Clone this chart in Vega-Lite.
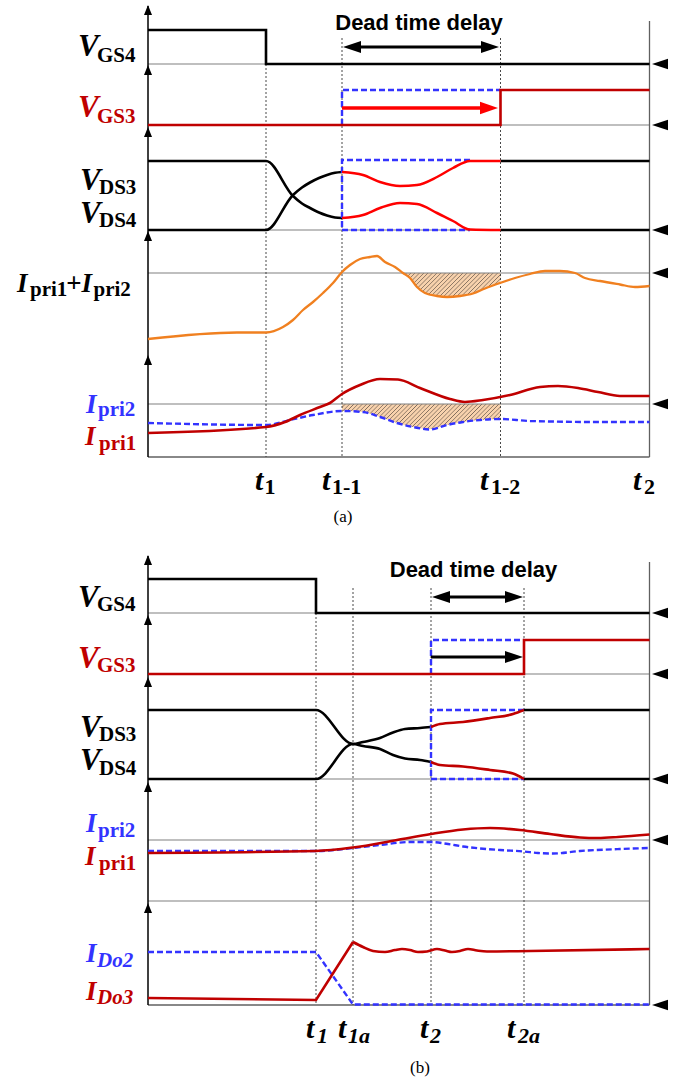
{
"$schema": "https://vega.github.io/schema/vega-lite/v6.json",
"width": 686, "height": 1081, "padding": 0,
"autosize": {"type": "fit", "contains": "padding"},
"background": "white",
"config": {"view": {"stroke": null}},
"datasets": {
"hatch1": [{"t":51,"y":273,"y2":273},{"t":52.4,"y":273,"y2":278},{"t":53.8,"y":273,"y2":287},{"t":55.4,"y":273,"y2":293},{"t":57.8,"y":273,"y2":296},{"t":59.8,"y":273,"y2":297},{"t":62.4,"y":273,"y2":296},{"t":65,"y":273,"y2":293.5},{"t":67.4,"y":273,"y2":288.5},{"t":70.5,"y":273,"y2":283}],
"hatch2": [{"t":38.8,"y":404,"y2":411},{"t":43,"y":404,"y2":412},{"t":46.4,"y":404,"y2":417},{"t":49.8,"y":404,"y2":423},{"t":53,"y":404,"y2":427},{"t":56.4,"y":404,"y2":429},{"t":59.8,"y":404,"y2":425},{"t":63,"y":404,"y2":422},{"t":66.4,"y":404,"y2":420},{"t":70.5,"y":404,"y2":419}],
"base": [{"t":0,"t2":100.3,"y":64},{"t":0,"t2":100.3,"y":125},{"t":0,"t2":100.3,"y":230},{"t":0,"t2":100.3,"y":273},{"t":0,"t2":100.3,"y":404},{"t":0,"t2":100.3,"y":613},{"t":0,"t2":100.3,"y":674},{"t":0,"t2":100.3,"y":779},{"t":0,"t2":100.3,"y":840},{"t":0,"t2":100.3,"y":901}],
"frame": [{"t":0,"t2":100.3,"y":457,"y2":457},{"t":100.3,"t2":100.3,"y":21,"y2":457},{"t":0,"t2":100.3,"y":1005,"y2":1005},{"t":100.3,"t2":100.3,"y":562,"y2":1005}],
"dots": [{"t":23.6,"y":64,"y2":457},{"t":38.8,"y":38,"y2":457},{"t":70.5,"y":38,"y2":457},{"t":33.6,"y":613,"y2":1005},{"t":41,"y":588,"y2":1005},{"t":56.6,"y":588,"y2":1005},{"t":75.2,"y":588,"y2":1005}],
"axes": [{"t":0,"t2":0,"y":6,"y2":457},{"t":0,"t2":0,"y":556,"y2":1005}],
"tips": [{"t":0,"y":5},{"t":0,"y":65},{"t":0,"y":127},{"t":0,"y":231},{"t":0,"y":355},{"t":0,"y":555},{"t":0,"y":615},{"t":0,"y":677},{"t":0,"y":782},{"t":0,"y":903}],
"marks": [{"t":100.8,"y":64},{"t":100.8,"y":125},{"t":100.8,"y":230},{"t":100.8,"y":273},{"t":100.8,"y":404},{"t":100.8,"y":613},{"t":100.8,"y":674},{"t":100.8,"y":779},{"t":100.8,"y":840},{"t":100.8,"y":1005}],
"black_step": [
{"id":"a_vgs4","t":0,"y":30},{"id":"a_vgs4","t":23.6,"y":30},{"id":"a_vgs4","t":23.6,"y":64},{"id":"a_vgs4","t":100.3,"y":64},
{"id":"a_vds3p","t":70.5,"y":161},{"id":"a_vds3p","t":100.3,"y":161},
{"id":"a_vds4p","t":70.5,"y":230},{"id":"a_vds4p","t":100.3,"y":230},
{"id":"b_vgs4","t":0,"y":579},{"id":"b_vgs4","t":33.6,"y":579},{"id":"b_vgs4","t":33.6,"y":613},{"id":"b_vgs4","t":100.3,"y":613},
{"id":"b_vds3p","t":75.2,"y":710},{"id":"b_vds3p","t":100.3,"y":710},
{"id":"b_vds4p","t":75.2,"y":779},{"id":"b_vds4p","t":100.3,"y":779}],
"black_curve": [
{"id":"a_vds3","t":0,"y":161},{"id":"a_vds3","t":23.6,"y":161},{"id":"a_vds3","t":29,"y":196},{"id":"a_vds3","t":30.8,"y":203.5},{"id":"a_vds3","t":32.4,"y":208},{"id":"a_vds3","t":34.2,"y":212.5},{"id":"a_vds3","t":35.8,"y":215.5},{"id":"a_vds3","t":37.4,"y":217.5},{"id":"a_vds3","t":38.8,"y":218},
{"id":"a_vds4","t":0,"y":230},{"id":"a_vds4","t":23.6,"y":230},{"id":"a_vds4","t":29,"y":195},{"id":"a_vds4","t":30.8,"y":187.5},{"id":"a_vds4","t":32.4,"y":182.5},{"id":"a_vds4","t":34.2,"y":178},{"id":"a_vds4","t":35.8,"y":175},{"id":"a_vds4","t":37.4,"y":172.8},{"id":"a_vds4","t":38.8,"y":172},
{"id":"b_vds3","t":0,"y":710},{"id":"b_vds3","t":33.6,"y":710},{"id":"b_vds3","t":41,"y":744},{"id":"b_vds3","t":43,"y":742},{"id":"b_vds3","t":46.4,"y":738},{"id":"b_vds3","t":49,"y":732.5},{"id":"b_vds3","t":51.4,"y":729},{"id":"b_vds3","t":54.4,"y":728},{"id":"b_vds3","t":56.6,"y":727},
{"id":"b_vds4","t":0,"y":779},{"id":"b_vds4","t":33.6,"y":779},{"id":"b_vds4","t":41,"y":744},{"id":"b_vds4","t":43,"y":746},{"id":"b_vds4","t":46.4,"y":749},{"id":"b_vds4","t":49,"y":755},{"id":"b_vds4","t":51.4,"y":758.5},{"id":"b_vds4","t":54.4,"y":760},{"id":"b_vds4","t":56.6,"y":762}],
"blue_step": [
{"id":"a_vgs3b","t":38.8,"y":125},{"id":"a_vgs3b","t":38.8,"y":90},{"id":"a_vgs3b","t":70.5,"y":90},
{"id":"a_vdsb","t":64.4,"y":160},{"id":"a_vdsb","t":38.8,"y":160},{"id":"a_vdsb","t":38.8,"y":230},{"id":"a_vdsb","t":64.4,"y":230},
{"id":"b_vgs3b","t":56.6,"y":674},{"id":"b_vgs3b","t":56.6,"y":640},{"id":"b_vgs3b","t":75.2,"y":640},
{"id":"b_vdsb","t":75.2,"y":710},{"id":"b_vdsb","t":56.6,"y":710},{"id":"b_vdsb","t":56.6,"y":779},{"id":"b_vdsb","t":75.2,"y":779},
{"id":"b_ido2","t":0,"y":952},{"id":"b_ido2","t":33.6,"y":952},{"id":"b_ido2","t":41,"y":1004.5},{"id":"b_ido2","t":100.3,"y":1004.5}],
"blue_curve": [
{"id":"a_ipri2","t":0,"y":423},{"id":"a_ipri2","t":23.6,"y":425},{"id":"a_ipri2","t":28.4,"y":420},{"id":"a_ipri2","t":33,"y":415},{"id":"a_ipri2","t":38.8,"y":411},{"id":"a_ipri2","t":43,"y":412},{"id":"a_ipri2","t":46.4,"y":417},{"id":"a_ipri2","t":49.8,"y":423},{"id":"a_ipri2","t":53,"y":427},{"id":"a_ipri2","t":56.4,"y":429.5},{"id":"a_ipri2","t":59.8,"y":425},{"id":"a_ipri2","t":63,"y":422},{"id":"a_ipri2","t":66.4,"y":420},{"id":"a_ipri2","t":70.5,"y":419},{"id":"a_ipri2","t":76.4,"y":421},{"id":"a_ipri2","t":90.4,"y":422},{"id":"a_ipri2","t":100.3,"y":422},
{"id":"b_ipri2","t":0,"y":851},{"id":"b_ipri2","t":33.6,"y":851},{"id":"b_ipri2","t":41,"y":848},{"id":"b_ipri2","t":46.4,"y":845},{"id":"b_ipri2","t":52.4,"y":842},{"id":"b_ipri2","t":56.6,"y":842},{"id":"b_ipri2","t":60,"y":844},{"id":"b_ipri2","t":63,"y":846.5},{"id":"b_ipri2","t":70.4,"y":850},{"id":"b_ipri2","t":75.2,"y":851.5},{"id":"b_ipri2","t":78,"y":853},{"id":"b_ipri2","t":81,"y":853.5},{"id":"b_ipri2","t":86.4,"y":851},{"id":"b_ipri2","t":94.4,"y":849},{"id":"b_ipri2","t":100.3,"y":848}],
"darkred_step": [
{"id":"a_vgs3","t":0,"y":125},{"id":"a_vgs3","t":70.5,"y":125},{"id":"a_vgs3","t":70.5,"y":90},{"id":"a_vgs3","t":100.3,"y":90},
{"id":"b_vgs3","t":0,"y":674},{"id":"b_vgs3","t":75.2,"y":674},{"id":"b_vgs3","t":75.2,"y":640},{"id":"b_vgs3","t":100.3,"y":640},
{"id":"b_ido3a","t":0,"y":998},{"id":"b_ido3a","t":33.6,"y":1000},{"id":"b_ido3a","t":41,"y":942}],
"darkred_curve": [
{"id":"a_ipri1","t":0,"y":433},{"id":"a_ipri1","t":23.6,"y":427},{"id":"a_ipri1","t":27.4,"y":422},{"id":"a_ipri1","t":30.4,"y":415},{"id":"a_ipri1","t":34.4,"y":407},{"id":"a_ipri1","t":36.4,"y":403},{"id":"a_ipri1","t":38.8,"y":394},{"id":"a_ipri1","t":42.4,"y":385},{"id":"a_ipri1","t":46.4,"y":379},{"id":"a_ipri1","t":50,"y":379.5},{"id":"a_ipri1","t":54.4,"y":388},{"id":"a_ipri1","t":60.4,"y":399},{"id":"a_ipri1","t":63.4,"y":402},{"id":"a_ipri1","t":67,"y":400},{"id":"a_ipri1","t":72.4,"y":395},{"id":"a_ipri1","t":78.4,"y":387},{"id":"a_ipri1","t":82,"y":386},{"id":"a_ipri1","t":86,"y":388},{"id":"a_ipri1","t":90,"y":392},{"id":"a_ipri1","t":94.4,"y":396},{"id":"a_ipri1","t":100.3,"y":396},
{"id":"b_vds3r","t":56.6,"y":727},{"id":"b_vds3r","t":58.4,"y":724},{"id":"b_vds3r","t":63,"y":722},{"id":"b_vds3r","t":68.4,"y":718},{"id":"b_vds3r","t":73,"y":714},{"id":"b_vds3r","t":75.2,"y":710},
{"id":"b_vds4r","t":56.6,"y":762},{"id":"b_vds4r","t":58.4,"y":765},{"id":"b_vds4r","t":63,"y":766.5},{"id":"b_vds4r","t":68.4,"y":770},{"id":"b_vds4r","t":73,"y":773.5},{"id":"b_vds4r","t":75.2,"y":779},
{"id":"b_ipri1","t":0,"y":853},{"id":"b_ipri1","t":33.6,"y":851},{"id":"b_ipri1","t":41,"y":847.5},{"id":"b_ipri1","t":49.8,"y":840},{"id":"b_ipri1","t":56.6,"y":834},{"id":"b_ipri1","t":63,"y":829.5},{"id":"b_ipri1","t":68.4,"y":828},{"id":"b_ipri1","t":74.4,"y":830},{"id":"b_ipri1","t":80.4,"y":834},{"id":"b_ipri1","t":86.4,"y":837.5},{"id":"b_ipri1","t":90,"y":838},{"id":"b_ipri1","t":94,"y":837},{"id":"b_ipri1","t":100.3,"y":834.5},
{"id":"b_ido3","t":41,"y":942},{"id":"b_ido3","t":43,"y":947},{"id":"b_ido3","t":45,"y":951},{"id":"b_ido3","t":47.4,"y":952},{"id":"b_ido3","t":49.4,"y":950},{"id":"b_ido3","t":50.8,"y":949},{"id":"b_ido3","t":52.4,"y":950},{"id":"b_ido3","t":54,"y":952},{"id":"b_ido3","t":55.8,"y":951.5},{"id":"b_ido3","t":57.8,"y":949},{"id":"b_ido3","t":59.4,"y":950.5},{"id":"b_ido3","t":60.8,"y":952},{"id":"b_ido3","t":62.4,"y":951},{"id":"b_ido3","t":64,"y":949},{"id":"b_ido3","t":65.8,"y":950.5},{"id":"b_ido3","t":67.8,"y":951.5},{"id":"b_ido3","t":76.4,"y":951},{"id":"b_ido3","t":100.3,"y":949}],
"red": [
{"id":"a_vds3r","t":38.8,"y":172},{"id":"a_vds3r","t":43,"y":175},{"id":"a_vds3r","t":46.4,"y":182},{"id":"a_vds3r","t":50.4,"y":186},{"id":"a_vds3r","t":53.8,"y":185},{"id":"a_vds3r","t":57.8,"y":177},{"id":"a_vds3r","t":61,"y":168},{"id":"a_vds3r","t":64.4,"y":161},{"id":"a_vds3r","t":70.5,"y":161},
{"id":"a_vds4r","t":38.8,"y":218},{"id":"a_vds4r","t":43,"y":215},{"id":"a_vds4r","t":46.4,"y":208},{"id":"a_vds4r","t":50.4,"y":203},{"id":"a_vds4r","t":53.8,"y":204},{"id":"a_vds4r","t":57.8,"y":213},{"id":"a_vds4r","t":61,"y":221},{"id":"a_vds4r","t":64.4,"y":229.5},{"id":"a_vds4r","t":70.5,"y":230}],
"orange": [
{"id":"a_sum","t":0,"y":339},{"id":"a_sum","t":17.8,"y":332.5},{"id":"a_sum","t":23.6,"y":332.5},{"id":"a_sum","t":27,"y":327},{"id":"a_sum","t":29,"y":320},{"id":"a_sum","t":31,"y":310},{"id":"a_sum","t":33,"y":302},{"id":"a_sum","t":35,"y":293},{"id":"a_sum","t":37,"y":283},{"id":"a_sum","t":38.8,"y":272},{"id":"a_sum","t":40.4,"y":265},{"id":"a_sum","t":42.4,"y":259},{"id":"a_sum","t":44.4,"y":257},{"id":"a_sum","t":45.8,"y":256},{"id":"a_sum","t":47.4,"y":262},{"id":"a_sum","t":49.4,"y":267},{"id":"a_sum","t":51,"y":273},{"id":"a_sum","t":52.4,"y":278},{"id":"a_sum","t":53.8,"y":287},{"id":"a_sum","t":55.4,"y":293},{"id":"a_sum","t":57.8,"y":296},{"id":"a_sum","t":59.8,"y":297},{"id":"a_sum","t":62.4,"y":296},{"id":"a_sum","t":65,"y":293.5},{"id":"a_sum","t":67.4,"y":288.5},{"id":"a_sum","t":70.4,"y":283},{"id":"a_sum","t":73.4,"y":278},{"id":"a_sum","t":76.4,"y":274},{"id":"a_sum","t":79.4,"y":271},{"id":"a_sum","t":82.4,"y":271},{"id":"a_sum","t":85.4,"y":273},{"id":"a_sum","t":87.4,"y":278},{"id":"a_sum","t":90.4,"y":281},{"id":"a_sum","t":94.4,"y":284.5},{"id":"a_sum","t":97.4,"y":287},{"id":"a_sum","t":100.3,"y":286}],
"shaft_k": [{"t":40.8,"t2":68.4,"y":47},{"t":58.6,"t2":73.2,"y":597},{"t":56.6,"t2":72.6,"y":657}],
"shaft_r": [{"t":38.8,"t2":67.8,"y":108}],
"head_rk": [{"t":70.2,"y":47},{"t":75,"y":597},{"t":75,"y":657}],
"head_lk": [{"t":39,"y":47},{"t":56.8,"y":597}],
"head_rr": [{"t":70,"y":108}],
"labels": [
{"sig":"VGS4","part":"main","txt":"V","t":-14,"y":56},{"sig":"VGS4","part":"sub","txt":"GS4","t":-10.2,"y":62},
{"sig":"VGS3","part":"main","txt":"V","t":-14,"y":117},{"sig":"VGS3","part":"sub","txt":"GS3","t":-10.2,"y":123},
{"sig":"VDS3","part":"main","txt":"V","t":-13.6,"y":190},{"sig":"VDS3","part":"sub","txt":"DS3","t":-9.8,"y":194},
{"sig":"VDS4","part":"main","txt":"V","t":-13.6,"y":223},{"sig":"VDS4","part":"sub","txt":"DS4","t":-9.8,"y":227},
{"sig":"Isum","part":"mainI","txt":"I","t":-26.2,"y":292},{"sig":"Isum","part":"sub","txt":"pri1","t":-23.6,"y":296},{"sig":"Isum","part":"mainI","txt":"+I","t":-16.4,"y":292},{"sig":"Isum","part":"sub","txt":"pri2","t":-10.9,"y":296},
{"sig":"Ipri2","part":"mainI","txt":"I","t":-12.4,"y":413},{"sig":"Ipri2","part":"sub","txt":"pri2","t":-10,"y":416},
{"sig":"Ipri1","part":"mainI","txt":"I","t":-12.6,"y":445},{"sig":"Ipri1","part":"sub","txt":"pri1","t":-9.8,"y":450},
{"sig":"time","part":"tmain","txt":"t","t":21.4,"y":490},{"sig":"time","part":"tsub","txt":"1","t":23.3,"y":494},
{"sig":"time","part":"tmain","txt":"t","t":34.8,"y":490},{"sig":"time","part":"tsub","txt":"1-1","t":36.8,"y":494},
{"sig":"time","part":"tmain","txt":"t","t":66.4,"y":490},{"sig":"time","part":"tsub","txt":"1-2","t":68.6,"y":494},
{"sig":"time","part":"tmain","txt":"t","t":97,"y":490},{"sig":"time","part":"tsub","txt":"2","t":99.2,"y":494},
{"sig":"fig","part":"cap","txt":"(a)","t":39,"y":522},
{"sig":"fig","part":"dead","txt":"Dead time delay","t":54.2,"y":30},
{"sig":"VGS4","part":"main","txt":"V","t":-14,"y":607},{"sig":"VGS4","part":"sub","txt":"GS4","t":-10.2,"y":611},
{"sig":"VGS3","part":"main","txt":"V","t":-14,"y":668},{"sig":"VGS3","part":"sub","txt":"GS3","t":-10.2,"y":672},
{"sig":"VDS3","part":"main","txt":"V","t":-13.6,"y":737},{"sig":"VDS3","part":"sub","txt":"DS3","t":-9.8,"y":741},
{"sig":"VDS4","part":"main","txt":"V","t":-13.6,"y":770},{"sig":"VDS4","part":"sub","txt":"DS4","t":-9.8,"y":775},
{"sig":"Ipri2","part":"mainI","txt":"I","t":-12.4,"y":832},{"sig":"Ipri2","part":"sub","txt":"pri2","t":-10,"y":837},
{"sig":"Ipri1","part":"mainI","txt":"I","t":-12.6,"y":865},{"sig":"Ipri1","part":"sub","txt":"pri1","t":-9.8,"y":870},
{"sig":"IDo2","part":"mainI","txt":"I","t":-12.4,"y":962},{"sig":"IDo2","part":"subi","txt":"Do2","t":-10.2,"y":967},
{"sig":"IDo3","part":"mainI","txt":"I","t":-12.4,"y":1000},{"sig":"IDo3","part":"subi","txt":"Do3","t":-10.2,"y":1004},
{"sig":"time","part":"tmain","txt":"t","t":31.6,"y":1038},{"sig":"time","part":"tsubi","txt":"1","t":33.8,"y":1043},
{"sig":"time","part":"tmain","txt":"t","t":38,"y":1038},{"sig":"time","part":"tsubi","txt":"1a","t":40,"y":1043},
{"sig":"time","part":"tmain","txt":"t","t":54.4,"y":1038},{"sig":"time","part":"tsubi","txt":"2","t":56.4,"y":1043},
{"sig":"time","part":"tmain","txt":"t","t":71.8,"y":1038},{"sig":"time","part":"tsubi","txt":"2a","t":74,"y":1043},
{"sig":"fig","part":"cap","txt":"(b)","t":54.4,"y":1073},
{"sig":"fig","part":"dead","txt":"Dead time delay","t":65.1,"y":577}]
},
"encoding": {
"x": {"field": "t", "type": "quantitative", "scale": {"domain": [-29.6, 107.6], "nice": false, "zero": false}, "axis": null},
"y": {"field": "y", "type": "quantitative", "scale": {"domain": [0, 1081], "reverse": true, "nice": false, "zero": false}, "axis": null}
},
"layer": [
{"data": {"name": "hatch1"}, "mark": {"type": "area", "opacity": 1, "interpolate": "monotone", "fill": {"gradient": "linear", "x1": 0, "y1": 0, "x2": 1.175, "y2": 0.289, "stops": [
{"offset":0,"color":"#f8d2ad"},{"offset":0.0214,"color":"#f8d2ad"},{"offset":0.0286,"color":"#7d6a5a"},
{"offset":0.0357,"color":"#f8d2ad"},{"offset":0.0571,"color":"#f8d2ad"},{"offset":0.0643,"color":"#7d6a5a"},
{"offset":0.0714,"color":"#f8d2ad"},{"offset":0.0929,"color":"#f8d2ad"},{"offset":0.1,"color":"#7d6a5a"},
{"offset":0.1071,"color":"#f8d2ad"},{"offset":0.1286,"color":"#f8d2ad"},{"offset":0.1357,"color":"#7d6a5a"},
{"offset":0.1429,"color":"#f8d2ad"},{"offset":0.1643,"color":"#f8d2ad"},{"offset":0.1714,"color":"#7d6a5a"},
{"offset":0.1786,"color":"#f8d2ad"},{"offset":0.2,"color":"#f8d2ad"},{"offset":0.2071,"color":"#7d6a5a"},
{"offset":0.2143,"color":"#f8d2ad"},{"offset":0.2357,"color":"#f8d2ad"},{"offset":0.2429,"color":"#7d6a5a"},
{"offset":0.25,"color":"#f8d2ad"},{"offset":0.2714,"color":"#f8d2ad"},{"offset":0.2786,"color":"#7d6a5a"},
{"offset":0.2857,"color":"#f8d2ad"},{"offset":0.3071,"color":"#f8d2ad"},{"offset":0.3143,"color":"#7d6a5a"},
{"offset":0.3214,"color":"#f8d2ad"},{"offset":0.3429,"color":"#f8d2ad"},{"offset":0.35,"color":"#7d6a5a"},
{"offset":0.3571,"color":"#f8d2ad"},{"offset":0.3786,"color":"#f8d2ad"},{"offset":0.3857,"color":"#7d6a5a"},
{"offset":0.3929,"color":"#f8d2ad"},{"offset":0.4143,"color":"#f8d2ad"},{"offset":0.4214,"color":"#7d6a5a"},
{"offset":0.4286,"color":"#f8d2ad"},{"offset":0.45,"color":"#f8d2ad"},{"offset":0.4571,"color":"#7d6a5a"},
{"offset":0.4643,"color":"#f8d2ad"},{"offset":0.4857,"color":"#f8d2ad"},{"offset":0.4929,"color":"#7d6a5a"},
{"offset":0.5,"color":"#f8d2ad"},{"offset":0.5214,"color":"#f8d2ad"},{"offset":0.5286,"color":"#7d6a5a"},
{"offset":0.5357,"color":"#f8d2ad"},{"offset":0.5571,"color":"#f8d2ad"},{"offset":0.5643,"color":"#7d6a5a"},
{"offset":0.5714,"color":"#f8d2ad"},{"offset":0.5929,"color":"#f8d2ad"},{"offset":0.6,"color":"#7d6a5a"},
{"offset":0.6071,"color":"#f8d2ad"},{"offset":0.6286,"color":"#f8d2ad"},{"offset":0.6357,"color":"#7d6a5a"},
{"offset":0.6429,"color":"#f8d2ad"},{"offset":0.6643,"color":"#f8d2ad"},{"offset":0.6714,"color":"#7d6a5a"},
{"offset":0.6786,"color":"#f8d2ad"},{"offset":0.7,"color":"#f8d2ad"},{"offset":0.7071,"color":"#7d6a5a"},
{"offset":0.7143,"color":"#f8d2ad"},{"offset":0.7357,"color":"#f8d2ad"},{"offset":0.7429,"color":"#7d6a5a"},
{"offset":0.75,"color":"#f8d2ad"},{"offset":0.7714,"color":"#f8d2ad"},{"offset":0.7786,"color":"#7d6a5a"},
{"offset":0.7857,"color":"#f8d2ad"},{"offset":0.8071,"color":"#f8d2ad"},{"offset":0.8143,"color":"#7d6a5a"},
{"offset":0.8214,"color":"#f8d2ad"},{"offset":0.8429,"color":"#f8d2ad"},{"offset":0.85,"color":"#7d6a5a"},
{"offset":0.8571,"color":"#f8d2ad"},{"offset":0.8786,"color":"#f8d2ad"},{"offset":0.8857,"color":"#7d6a5a"},
{"offset":0.8929,"color":"#f8d2ad"},{"offset":0.9143,"color":"#f8d2ad"},{"offset":0.9214,"color":"#7d6a5a"},
{"offset":0.9286,"color":"#f8d2ad"},{"offset":0.95,"color":"#f8d2ad"},{"offset":0.9571,"color":"#7d6a5a"},
{"offset":0.9643,"color":"#f8d2ad"},{"offset":0.9857,"color":"#f8d2ad"},{"offset":0.9929,"color":"#7d6a5a"},
{"offset":1,"color":"#f8d2ad"}]}}, "encoding": {"y2": {"field": "y2"}}},
{"data": {"name": "hatch2"}, "mark": {"type": "area", "opacity": 1, "interpolate": "monotone", "fill": {"gradient": "linear", "x1": 0, "y1": 0, "x2": 1.13, "y2": 0.178, "stops": [
{"offset":0,"color":"#f8d2ad"},{"offset":0.014,"color":"#f8d2ad"},{"offset":0.0186,"color":"#7d6a5a"},
{"offset":0.0233,"color":"#f8d2ad"},{"offset":0.0372,"color":"#f8d2ad"},{"offset":0.0419,"color":"#7d6a5a"},
{"offset":0.0465,"color":"#f8d2ad"},{"offset":0.0605,"color":"#f8d2ad"},{"offset":0.0651,"color":"#7d6a5a"},
{"offset":0.0698,"color":"#f8d2ad"},{"offset":0.0837,"color":"#f8d2ad"},{"offset":0.0884,"color":"#7d6a5a"},
{"offset":0.093,"color":"#f8d2ad"},{"offset":0.107,"color":"#f8d2ad"},{"offset":0.1116,"color":"#7d6a5a"},
{"offset":0.1163,"color":"#f8d2ad"},{"offset":0.1302,"color":"#f8d2ad"},{"offset":0.1349,"color":"#7d6a5a"},
{"offset":0.1395,"color":"#f8d2ad"},{"offset":0.1535,"color":"#f8d2ad"},{"offset":0.1581,"color":"#7d6a5a"},
{"offset":0.1628,"color":"#f8d2ad"},{"offset":0.1767,"color":"#f8d2ad"},{"offset":0.1814,"color":"#7d6a5a"},
{"offset":0.186,"color":"#f8d2ad"},{"offset":0.2,"color":"#f8d2ad"},{"offset":0.2047,"color":"#7d6a5a"},
{"offset":0.2093,"color":"#f8d2ad"},{"offset":0.2233,"color":"#f8d2ad"},{"offset":0.2279,"color":"#7d6a5a"},
{"offset":0.2326,"color":"#f8d2ad"},{"offset":0.2465,"color":"#f8d2ad"},{"offset":0.2512,"color":"#7d6a5a"},
{"offset":0.2558,"color":"#f8d2ad"},{"offset":0.2698,"color":"#f8d2ad"},{"offset":0.2744,"color":"#7d6a5a"},
{"offset":0.2791,"color":"#f8d2ad"},{"offset":0.293,"color":"#f8d2ad"},{"offset":0.2977,"color":"#7d6a5a"},
{"offset":0.3023,"color":"#f8d2ad"},{"offset":0.3163,"color":"#f8d2ad"},{"offset":0.3209,"color":"#7d6a5a"},
{"offset":0.3256,"color":"#f8d2ad"},{"offset":0.3395,"color":"#f8d2ad"},{"offset":0.3442,"color":"#7d6a5a"},
{"offset":0.3488,"color":"#f8d2ad"},{"offset":0.3628,"color":"#f8d2ad"},{"offset":0.3674,"color":"#7d6a5a"},
{"offset":0.3721,"color":"#f8d2ad"},{"offset":0.386,"color":"#f8d2ad"},{"offset":0.3907,"color":"#7d6a5a"},
{"offset":0.3953,"color":"#f8d2ad"},{"offset":0.4093,"color":"#f8d2ad"},{"offset":0.414,"color":"#7d6a5a"},
{"offset":0.4186,"color":"#f8d2ad"},{"offset":0.4326,"color":"#f8d2ad"},{"offset":0.4372,"color":"#7d6a5a"},
{"offset":0.4419,"color":"#f8d2ad"},{"offset":0.4558,"color":"#f8d2ad"},{"offset":0.4605,"color":"#7d6a5a"},
{"offset":0.4651,"color":"#f8d2ad"},{"offset":0.4791,"color":"#f8d2ad"},{"offset":0.4837,"color":"#7d6a5a"},
{"offset":0.4884,"color":"#f8d2ad"},{"offset":0.5023,"color":"#f8d2ad"},{"offset":0.507,"color":"#7d6a5a"},
{"offset":0.5116,"color":"#f8d2ad"},{"offset":0.5256,"color":"#f8d2ad"},{"offset":0.5302,"color":"#7d6a5a"},
{"offset":0.5349,"color":"#f8d2ad"},{"offset":0.5488,"color":"#f8d2ad"},{"offset":0.5535,"color":"#7d6a5a"},
{"offset":0.5581,"color":"#f8d2ad"},{"offset":0.5721,"color":"#f8d2ad"},{"offset":0.5767,"color":"#7d6a5a"},
{"offset":0.5814,"color":"#f8d2ad"},{"offset":0.5953,"color":"#f8d2ad"},{"offset":0.6,"color":"#7d6a5a"},
{"offset":0.6047,"color":"#f8d2ad"},{"offset":0.6186,"color":"#f8d2ad"},{"offset":0.6233,"color":"#7d6a5a"},
{"offset":0.6279,"color":"#f8d2ad"},{"offset":0.6419,"color":"#f8d2ad"},{"offset":0.6465,"color":"#7d6a5a"},
{"offset":0.6512,"color":"#f8d2ad"},{"offset":0.6651,"color":"#f8d2ad"},{"offset":0.6698,"color":"#7d6a5a"},
{"offset":0.6744,"color":"#f8d2ad"},{"offset":0.6884,"color":"#f8d2ad"},{"offset":0.693,"color":"#7d6a5a"},
{"offset":0.6977,"color":"#f8d2ad"},{"offset":0.7116,"color":"#f8d2ad"},{"offset":0.7163,"color":"#7d6a5a"},
{"offset":0.7209,"color":"#f8d2ad"},{"offset":0.7349,"color":"#f8d2ad"},{"offset":0.7395,"color":"#7d6a5a"},
{"offset":0.7442,"color":"#f8d2ad"},{"offset":0.7581,"color":"#f8d2ad"},{"offset":0.7628,"color":"#7d6a5a"},
{"offset":0.7674,"color":"#f8d2ad"},{"offset":0.7814,"color":"#f8d2ad"},{"offset":0.786,"color":"#7d6a5a"},
{"offset":0.7907,"color":"#f8d2ad"},{"offset":0.8047,"color":"#f8d2ad"},{"offset":0.8093,"color":"#7d6a5a"},
{"offset":0.814,"color":"#f8d2ad"},{"offset":0.8279,"color":"#f8d2ad"},{"offset":0.8326,"color":"#7d6a5a"},
{"offset":0.8372,"color":"#f8d2ad"},{"offset":0.8512,"color":"#f8d2ad"},{"offset":0.8558,"color":"#7d6a5a"},
{"offset":0.8605,"color":"#f8d2ad"},{"offset":0.8744,"color":"#f8d2ad"},{"offset":0.8791,"color":"#7d6a5a"},
{"offset":0.8837,"color":"#f8d2ad"},{"offset":0.8977,"color":"#f8d2ad"},{"offset":0.9023,"color":"#7d6a5a"},
{"offset":0.907,"color":"#f8d2ad"},{"offset":0.9209,"color":"#f8d2ad"},{"offset":0.9256,"color":"#7d6a5a"},
{"offset":0.9302,"color":"#f8d2ad"},{"offset":0.9442,"color":"#f8d2ad"},{"offset":0.9488,"color":"#7d6a5a"},
{"offset":0.9535,"color":"#f8d2ad"},{"offset":0.9674,"color":"#f8d2ad"},{"offset":0.9721,"color":"#7d6a5a"},
{"offset":0.9767,"color":"#f8d2ad"},{"offset":0.9907,"color":"#f8d2ad"},{"offset":0.9953,"color":"#7d6a5a"},
{"offset":1,"color":"#f8d2ad"}]}}, "encoding": {"y2": {"field": "y2"}}},
{"data": {"name": "base"}, "mark": {"type": "rule", "color": "#808080", "strokeWidth": 1.2}, "encoding": {"x2": {"field": "t2"}}},
{"data": {"name": "frame"}, "mark": {"type": "rule", "color": "#606060", "strokeWidth": 1.3}, "encoding": {"x2": {"field": "t2"}, "y2": {"field": "y2"}}},
{"data": {"name": "dots"}, "mark": {"type": "rule", "color": "#333333", "strokeWidth": 0.9, "strokeDash": [2, 2]}, "encoding": {"y2": {"field": "y2"}}},
{"data": {"name": "axes"}, "mark": {"type": "rule", "color": "#000000", "strokeWidth": 1.5}, "encoding": {"x2": {"field": "t2"}, "y2": {"field": "y2"}}},
{"data": {"name": "tips"}, "mark": {"type": "point", "shape": "M0,0L0.5,1.25L-0.5,1.25Z", "size": 256, "filled": true, "opacity": 1, "color": "#000000"}},
{"data": {"name": "marks"}, "mark": {"type": "point", "shape": "M0,0L2,-0.65L2,0.65Z", "size": 256, "filled": true, "opacity": 1, "color": "#000000"}},
{"data": {"name": "black_step"}, "mark": {"type": "line", "order": false, "color": "#000000", "strokeWidth": 2.6}, "encoding": {"detail": {"field": "id"}}},
{"data": {"name": "black_curve"}, "mark": {"type": "line", "order": false, "interpolate": "monotone", "color": "#000000", "strokeWidth": 2.6}, "encoding": {"detail": {"field": "id"}}},
{"data": {"name": "blue_step"}, "mark": {"type": "line", "order": false, "color": "#3333ff", "strokeWidth": 2.4, "strokeDash": [6, 3]}, "encoding": {"detail": {"field": "id"}}},
{"data": {"name": "blue_curve"}, "mark": {"type": "line", "order": false, "interpolate": "monotone", "color": "#3333ff", "strokeWidth": 2.4, "strokeDash": [6, 3]}, "encoding": {"detail": {"field": "id"}}},
{"data": {"name": "darkred_step"}, "mark": {"type": "line", "order": false, "color": "#c00000", "strokeWidth": 2.6}, "encoding": {"detail": {"field": "id"}}},
{"data": {"name": "darkred_curve"}, "mark": {"type": "line", "order": false, "interpolate": "monotone", "color": "#c00000", "strokeWidth": 2.6}, "encoding": {"detail": {"field": "id"}}},
{"data": {"name": "red"}, "mark": {"type": "line", "order": false, "interpolate": "monotone", "color": "#ff0000", "strokeWidth": 2.5}, "encoding": {"detail": {"field": "id"}}},
{"data": {"name": "orange"}, "mark": {"type": "line", "order": false, "interpolate": "monotone", "color": "#f08020", "strokeWidth": 2.3}, "encoding": {"detail": {"field": "id"}}},
{"data": {"name": "shaft_k"}, "mark": {"type": "rule", "color": "#000000", "strokeWidth": 3}, "encoding": {"x2": {"field": "t2"}}},
{"data": {"name": "shaft_r"}, "mark": {"type": "rule", "color": "#ff0000", "strokeWidth": 3.4}, "encoding": {"x2": {"field": "t2"}}},
{"data": {"name": "head_rk"}, "mark": {"type": "point", "shape": "M0,0L-2,-0.66L-2,0.66Z", "size": 324, "filled": true, "opacity": 1, "color": "#000000"}},
{"data": {"name": "head_lk"}, "mark": {"type": "point", "shape": "M0,0L2,-0.66L2,0.66Z", "size": 324, "filled": true, "opacity": 1, "color": "#000000"}},
{"data": {"name": "head_rr"}, "mark": {"type": "point", "shape": "M0,0L-2,-0.7L-2,0.7Z", "size": 324, "filled": true, "opacity": 1, "color": "#ff0000"}},
{"data": {"name": "labels"},
 "encoding": {"text": {"field": "txt"}, "color": {"field": "sig", "type": "nominal", "legend": null, "scale": {"domain": ["VGS4","VGS3","VDS3","VDS4","Isum","Ipri2","Ipri1","IDo2","IDo3","time","fig"], "range": ["#000000","#c00000","#000000","#000000","#000000","#3333ff","#c00000","#3333ff","#c00000","#000000","#000000"]}}},
 "layer": [
  {"transform": [{"filter": "datum.part === 'main'"}], "mark": {"type": "text", "align": "left", "baseline": "alphabetic", "font": "Times New Roman, Liberation Serif, serif", "fontSize": 31, "fontWeight": "bold", "fontStyle": "italic"}},
  {"transform": [{"filter": "datum.part === 'mainI'"}], "mark": {"type": "text", "align": "left", "baseline": "alphabetic", "font": "Times New Roman, Liberation Serif, serif", "fontSize": 27, "fontWeight": "bold", "fontStyle": "italic"}},
  {"transform": [{"filter": "datum.part === 'sub'"}], "mark": {"type": "text", "align": "left", "baseline": "alphabetic", "font": "Times New Roman, Liberation Serif, serif", "fontSize": 21, "fontWeight": "bold"}},
  {"transform": [{"filter": "datum.part === 'subi'"}], "mark": {"type": "text", "align": "left", "baseline": "alphabetic", "font": "Times New Roman, Liberation Serif, serif", "fontSize": 21, "fontWeight": "bold", "fontStyle": "italic"}},
  {"transform": [{"filter": "datum.part === 'tmain'"}], "mark": {"type": "text", "align": "left", "baseline": "alphabetic", "font": "Times New Roman, Liberation Serif, serif", "fontSize": 30, "fontWeight": "bold", "fontStyle": "italic"}},
  {"transform": [{"filter": "datum.part === 'tsub'"}], "mark": {"type": "text", "align": "left", "baseline": "alphabetic", "font": "Times New Roman, Liberation Serif, serif", "fontSize": 22, "fontWeight": "bold"}},
  {"transform": [{"filter": "datum.part === 'tsubi'"}], "mark": {"type": "text", "align": "left", "baseline": "alphabetic", "font": "Times New Roman, Liberation Serif, serif", "fontSize": 22, "fontWeight": "bold", "fontStyle": "italic"}},
  {"transform": [{"filter": "datum.part === 'cap'"}], "mark": {"type": "text", "align": "center", "baseline": "alphabetic", "font": "Times New Roman, Liberation Serif, serif", "fontSize": 17}},
  {"transform": [{"filter": "datum.part === 'dead'"}], "mark": {"type": "text", "align": "center", "baseline": "alphabetic", "font": "Arial, Liberation Sans, sans-serif", "fontSize": 22, "fontWeight": "bold"}}
 ]}
]
}
